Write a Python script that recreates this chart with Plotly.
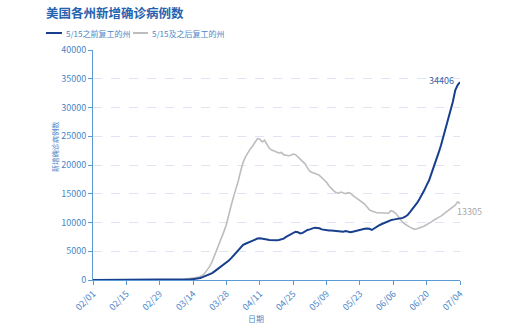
import pandas as pd
import plotly.graph_objects as go

# Daily dates, 2020-02-01 .. 2020-07-04
dates = pd.date_range("2020-02-01", "2020-07-04", freq="D")

# New confirmed cases (7-day average), states reopened before 5/15
early_reopen = [
    0, 0, 0, 0, 0, 0, 0, 0, 0, 0, 0, 0, 0, 0, 0, 0, 0, 0, 0, 0, 0, 0, 0, 0, 0, 0, 0, 0,
    0, 0, 0, 5, 5, 10, 15, 20, 30, 40, 60, 80,
    100, 120, 150, 200, 250, 350, 500, 650, 800, 1000,
    1200, 1500, 1800, 2100, 2400, 2700, 3000, 3400, 3800, 4300,
    4700, 5200, 5600, 6100, 6300, 6500, 6700, 6900, 7100, 7200,
    7250, 7200, 7200, 7050, 6950, 6900, 6900, 6900, 6950, 7050,
    7200, 7500, 7700, 7900, 8100, 8400, 8300, 8100, 8200, 8500,
    8700, 8800, 9000, 9100, 9050, 9000, 8800, 8700, 8650, 8600,
    8600, 8550, 8500, 8500, 8450, 8400, 8500, 8400, 8300, 8400,
    8500, 8650, 8800, 8850, 8900, 8950, 8900, 8700, 9000, 9250,
    9500, 9700, 9900, 10100, 10300, 10400, 10500, 10550, 10600, 10700,
    10800, 11000, 11300, 11800, 12300, 12800, 13400, 14100, 14800, 15600,
    16500, 17300, 18500, 19600, 20800, 22100, 23400, 24900, 26300, 27700,
    29300, 31000, 33000, 33900, 34406,
]

# New confirmed cases (7-day average), states reopened on/after 5/15
late_reopen = [
    0, 0, 0, 0, 0, 0, 0, 0, 0, 0, 0, 0, 0, 0, 0, 0, 0, 0, 0, 0, 0, 0, 0, 0, 0, 0, 0, 0,
    0, 5, 5, 10, 15, 20, 30, 40, 60, 80, 100, 150,
    200, 250, 300, 380, 450, 600, 800, 1200, 1700, 2400,
    3200, 4200, 5200, 6300, 7300, 8500, 9700, 11500, 13000, 14500,
    15800, 17300, 19000, 20500, 21400, 22200, 22800, 23300, 23900, 24600,
    24500, 24000, 24300, 23500, 22900, 22600, 22400, 22300, 22100, 22200,
    21800, 21700, 21600, 21700, 21900, 21800, 21400, 21000, 20600, 20200,
    19500, 18900, 18700, 18600, 18400, 18200, 17800, 17400, 17000, 16400,
    15900, 15500, 15200, 15100, 15300, 15100, 15000, 15200, 15100, 14700,
    14400, 14100, 13800, 13500, 13200, 12700, 12200, 12000, 11800, 11700,
    11700, 11700, 11600, 11700, 11600, 12050, 11900, 11600, 11000, 10400,
    10000, 9700, 9400, 9200, 9000, 8800, 8900, 9000, 9200, 9400,
    9600, 9800, 10100, 10400, 10700, 10900, 11100, 11400, 11700, 12000,
    12300, 12700, 13000, 13600, 13305,
]

series_names = ["5/15之前复工的州", "5/15及之后复工的州"]
series_colors = ["#173f8e", "#bdbdbd"]
tick_dates = pd.date_range("2020-02-01", "2020-07-04", freq="14D")

TXT_BLUE = "#4a86c8"
AXIS_BLUE = "#5b9bd5"
FONT = "Noto Sans CJK SC"

fig = go.Figure()
fig.add_trace(go.Scatter(x=dates, y=late_reopen, mode="lines", name=series_names[1],
                         line=dict(color=series_colors[1], width=1.6), showlegend=False))
fig.add_trace(go.Scatter(x=dates, y=early_reopen, mode="lines", name=series_names[0],
                         line=dict(color=series_colors[0], width=2), showlegend=False))

# plot-area geometry in pixels, used to place the hand-drawn legend
L, R, T, B = 93, 460, 50, 280
def px(x):
    return (x - L) / (R - L)
def py(y):
    return (B - y) / (B - T)

shapes = []
annotations = []
legend_items = [(46, 62, 64), (133, 148, 150)]
for (x0, x1, tx), name, col in zip(legend_items, series_names, series_colors):
    shapes.append(dict(type="line", xref="paper", yref="paper",
                       x0=px(x0), x1=px(x1), y0=py(33), y1=py(33),
                       line=dict(color=col, width=2)))
    annotations.append(dict(xref="paper", yref="paper", x=px(tx), y=py(33),
                            text=name, showarrow=False, xanchor="left", yanchor="middle",
                            font=dict(size=8, color=TXT_BLUE, family=FONT)))

# end-of-line value labels
annotations.append(dict(x=dates[-1], y=early_reopen[-1], text=str(early_reopen[-1]),
                        showarrow=False, xanchor="right", yanchor="middle",
                        xshift=-4, yshift=2,
                        font=dict(size=9, color="#3a5fa6", family=FONT)))
annotations.append(dict(x=dates[-1], y=late_reopen[-1], text=str(late_reopen[-1]),
                        showarrow=False, xanchor="left", yanchor="middle",
                        xshift=-5, yshift=-8,
                        font=dict(size=9, color="#a8a8a8", family=FONT)))

# axis titles
annotations.append(dict(xref="paper", yref="paper", x=px(55), y=py(147),
                        text="新增确诊病例数", textangle=-90, showarrow=False,
                        xanchor="center", yanchor="middle",
                        font=dict(size=7.2, color=TXT_BLUE, family=FONT)))
annotations.append(dict(xref="paper", yref="paper", x=px(256), y=py(318),
                        text="日期", showarrow=False, xanchor="center", yanchor="middle",
                        font=dict(size=8, color=TXT_BLUE, family=FONT)))

fig.update_layout(
    width=518, height=323,
    margin=dict(l=L, r=518 - R, t=T, b=323 - B),
    paper_bgcolor="white", plot_bgcolor="white",
    title=dict(text="<b>美国各州新增确诊病例数</b>", x=46 / 518, xanchor="left",
               y=1 - 14 / 323, yanchor="middle", xref="container", yref="container",
               font=dict(size=12.5, color="#2563b0", family=FONT)),
    shapes=shapes, annotations=annotations,
    showlegend=False,
    font=dict(family=FONT),
)
fig.update_xaxes(
    type="date", range=[dates[0], dates[-1]],
    tickvals=tick_dates, tickformat="%m/%d", tickangle=-45,
    tickfont=dict(size=9, color=TXT_BLUE),
    showline=True, linecolor=AXIS_BLUE, linewidth=1,
    ticks="outside", ticklen=4, tickcolor=AXIS_BLUE,
    showgrid=False, zeroline=False, automargin=False,
)
fig.update_yaxes(
    range=[0, 40000], dtick=5000, tickformat="d",
    tickfont=dict(size=9, color=TXT_BLUE),
    showline=True, linecolor=AXIS_BLUE, linewidth=1,
    ticks="outside", ticklen=4, tickcolor=AXIS_BLUE,
    showgrid=True, gridcolor="#dde4f3", griddash="dash", gridwidth=1,
    zeroline=False, automargin=False,
)

fig.write_html("out.html")
